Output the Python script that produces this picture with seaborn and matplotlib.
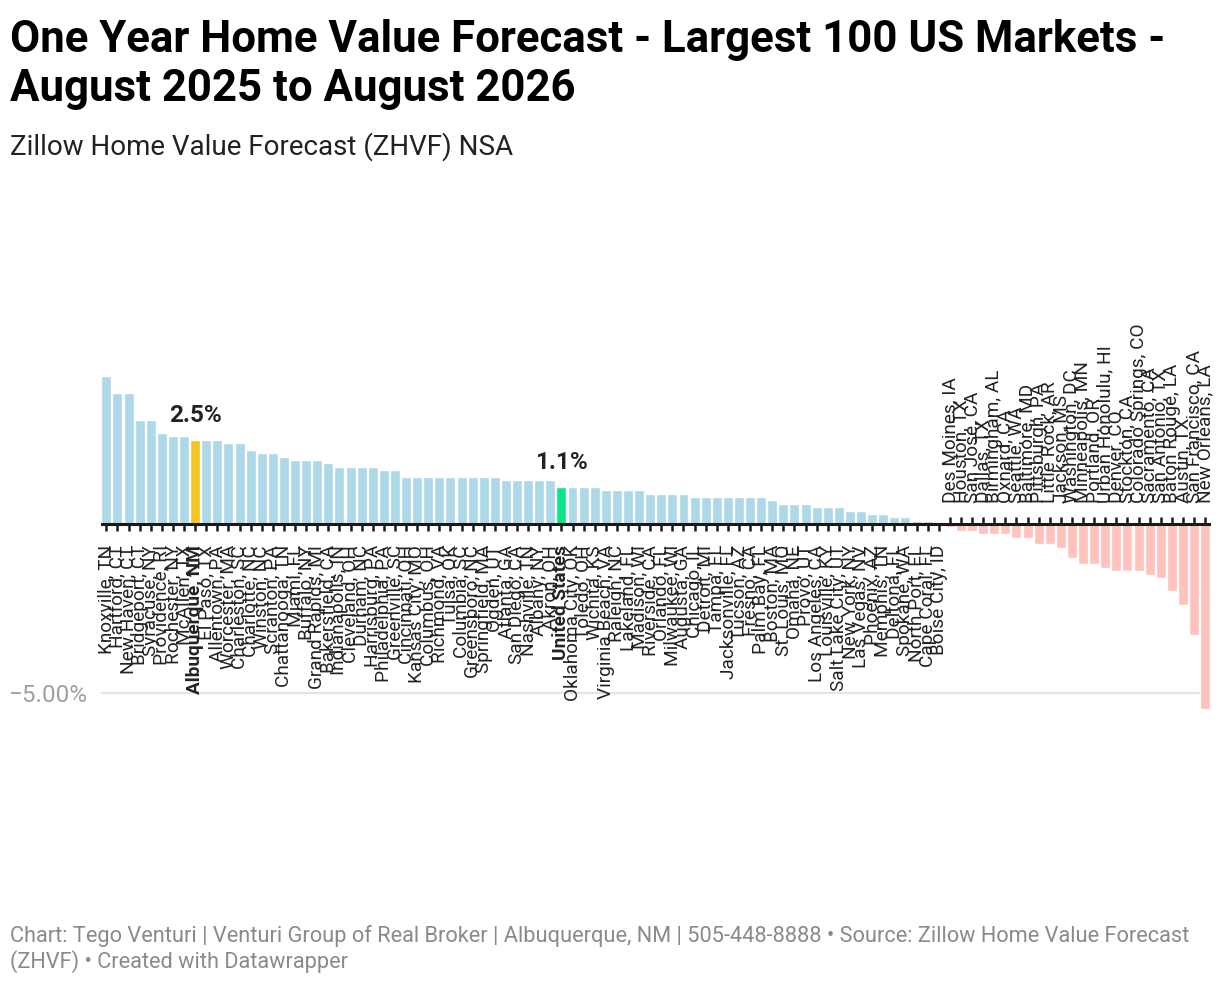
import pandas as pd
import matplotlib.pyplot as plt
import seaborn as sns

# markets sorted by forecast, values in percent
markets = [
    "Knoxville, TN", "Hartford, CT", "New Haven, CT", "Bridgeport, CT", "Syracuse, NY",
    "Providence, RI", "Rochester, NY", "McAllen, TX", "Albuquerque, NM", "El Paso, TX",
    "Allentown, PA", "Worcester, MA", "Charleston, SC", "Charlotte, NC", "Winston, NC",
    "Scranton, PA", "Chattanooga, TN", "Miami, FL", "Buffalo, NY", "Grand Rapids, MI",
    "Bakersfield, CA", "Indianapolis, IN", "Cleveland, OH", "Durham, NC", "Harrisburg, PA",
    "Philadelphia, PA", "Greenville, SC", "Cincinnati, OH", "Kansas City, MO", "Columbus, OH",
    "Richmond, VA", "Tulsa, OK", "Columbia, SC", "Greensboro, NC", "Springfield, MA",
    "Ogden, UT", "Atlanta, GA", "San Diego, CA", "Nashville, TN", "Albany, NY",
    "Akron, OH", "United States", "Oklahoma City, OK", "Toledo, OH", "Wichita, KS",
    "Virginia Beach, VA", "Raleigh, NC", "Lakeland, FL", "Madison, WI", "Riverside, CA",
    "Orlando, FL", "Milwaukee, WI", "Augusta, GA", "Chicago, IL", "Detroit, MI",
    "Tampa, FL", "Jacksonville, FL", "Tucson, AZ", "Fresno, CA", "Palm Bay, FL",
    "Boston, MA", "St. Louis, MO", "Omaha, NE", "Provo, UT", "Los Angeles, CA",
    "Louisville, KY", "Salt Lake City, UT", "New York, NY", "Las Vegas, NV", "Phoenix, AZ",
    "Memphis, TN", "Deltona, FL", "Spokane, WA", "North Port, FL", "Cape Coral, FL",
    "Boise City, ID", "Des Moines, IA", "Houston, TX", "San Jose, CA", "Dallas, TX",
    "Birmingham, AL", "Oxnard, CA", "Seattle, WA", "Baltimore, MD", "Pittsburgh, PA",
    "Little Rock, AR", "Jackson, MS", "Washington, DC", "Minneapolis, MN", "Portland, OR",
    "Urban Honolulu, HI", "Denver, CO", "Stockton, CA", "Colorado Springs, CO", "Sacramento, CA",
    "San Antonio, TX", "Baton Rouge, LA", "Austin, TX", "San Francisco, CA", "New Orleans, LA",
]
forecast = [
    4.4, 3.9, 3.9, 3.1, 3.1, 2.7, 2.6, 2.6, 2.5, 2.5,
    2.5, 2.4, 2.4, 2.2, 2.1, 2.1, 2.0, 1.9, 1.9, 1.9,
    1.8, 1.7, 1.7, 1.7, 1.7, 1.6, 1.6, 1.4, 1.4, 1.4,
    1.4, 1.4, 1.4, 1.4, 1.4, 1.4, 1.3, 1.3, 1.3, 1.3,
    1.3, 1.1, 1.1, 1.1, 1.1, 1.0, 1.0, 1.0, 1.0, 0.9,
    0.9, 0.9, 0.9, 0.8, 0.8, 0.8, 0.8, 0.8, 0.8, 0.8,
    0.7, 0.6, 0.6, 0.6, 0.5, 0.5, 0.5, 0.4, 0.4, 0.3,
    0.3, 0.2, 0.2, 0.1, 0.1, 0.0, -0.1, -0.2, -0.2, -0.3,
    -0.3, -0.3, -0.4, -0.4, -0.6, -0.6, -0.7, -1.0, -1.2, -1.2,
    -1.3, -1.4, -1.4, -1.4, -1.5, -1.6, -2.0, -2.4, -3.3, -5.5,
]
highlight = {"Albuquerque, NM": "abq", "United States": "us"}

df = pd.DataFrame({"market": markets, "value": forecast})
df["group"] = [highlight.get(m, "pos" if v >= 0 else "neg") for m, v in zip(markets, forecast)]

palette = {"pos": "#add8e8", "neg": "#ffc2bc", "abq": "#f5c522", "us": "#0be487"}

sns.set_style("white")
plt.rcParams['font.family'] = ['Roboto', 'DejaVu Sans']

fig = plt.figure(figsize=(12.2, 9.86), dpi=100)
ax = fig.add_axes([0.0826, 0.0926, 0.9098, 0.7177])

sns.barplot(data=df, x="market", y="value", hue="group", palette=palette,
            dodge=False, width=0.9, legend=False, ax=ax, saturation=1)

ax.set_xlim(-0.5, len(df) - 0.5)
ax.set_ylim(-11, 10)
for s in ax.spines.values():
    s.set_visible(False)

# zero line + ticks
ax.axhline(0, color="#1a1a1a", lw=2.2, zorder=4)
ax.set_xticks([])
ax.set_xlabel("")
ax.set_ylabel("")
ax.set_yticks([-5])
ax.set_yticklabels(["\u22125.00%"], color="#a0a0a0", fontsize=17.5)
ax.tick_params(axis="y", length=0, pad=10)
ax.grid(axis="y", color="#e4e4e4", lw=1.5)
ax.set_axisbelow(True)

for i, row in df.iterrows():
    bold = "bold" if row["group"] in ("abq", "us") else "normal"
    if row["value"] >= 0:
        ax.vlines(i, -0.22, 0, color="#1a1a1a", lw=1.8, zorder=4)
        ax.text(i, -0.62, row["market"], rotation=90, ha="center", va="top",
                fontsize=13.7, color="#222222", fontweight=bold)
    else:
        ax.vlines(i, 0, 0.22, color="#1a1a1a", lw=1.8, zorder=4)
        ax.text(i, 0.62, row["market"], rotation=90, ha="center", va="bottom",
                fontsize=13.7, color="#222222", fontweight=bold)
    if row["group"] in ("abq", "us"):
        ax.annotate(f"{row['value']:.1f}%", (i, row["value"]), xytext=(0, 9),
                    textcoords="offset points", ha="center", va="bottom",
                    fontsize=17.5, fontweight="bold", color="#222222")

fig.text(0.0082, 0.981, "One Year Home Value Forecast - Largest 100 US Markets -\nAugust 2025 to August 2026",
         ha="left", va="top", fontsize=31.5, fontweight="bold", color="#000000", linespacing=1.22)
fig.text(0.0082, 0.851, "Zillow Home Value Forecast (ZHVF) NSA",
         ha="left", va="center", fontsize=20, color="#222222")
fig.text(0.0082, 0.0375, "Chart: Tego Venturi | Venturi Group of Real Broker | Albuquerque, NM | 505-448-8888 \u2022 Source: Zillow Home Value Forecast\n(ZHVF) \u2022 Created with Datawrapper",
         ha="left", va="center", fontsize=15.7, color="#8a8a8a", linespacing=1.2)

plt.savefig("out.png", dpi=100)
plt.close()
